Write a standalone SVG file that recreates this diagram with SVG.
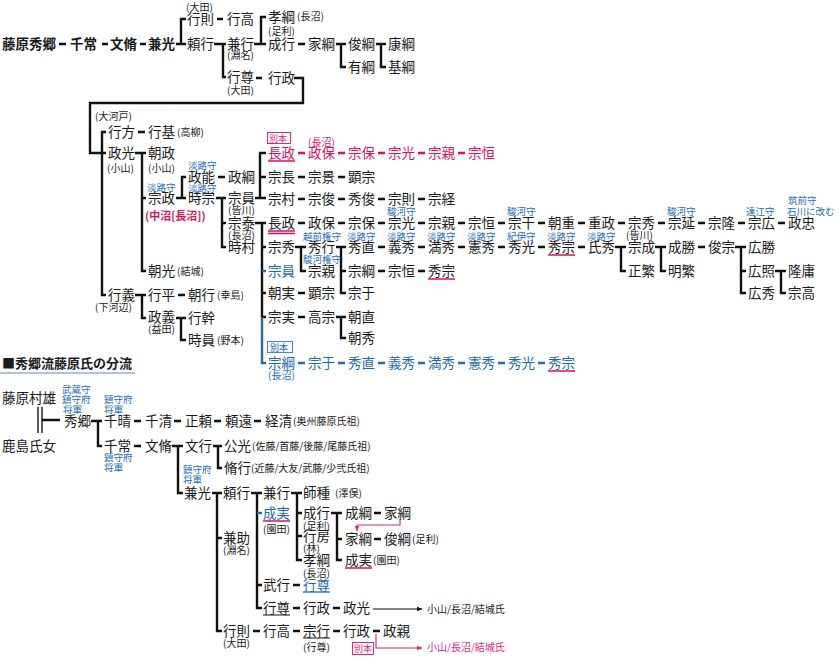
<svg xmlns="http://www.w3.org/2000/svg" width="839" height="662" viewBox="0 0 839 662">
<defs>
<style>
text{font-family:"Noto Sans CJK JP","Noto Sans CJK SC",sans-serif}
.n{font-size:13.5px;fill:#1a1a1a}
.bd{font-weight:bold}
.s{font-size:10px;fill:#1a1a1a}
.l{font-size:9.5px;fill:#1f6db3}
.red{fill:#d4145a}
.blu{fill:#1d6aab}
.pk{fill:#dc2a7a}
.c{stroke:#111;stroke-width:2.4;fill:none}
.cr{stroke:#d4145a;stroke-width:2.4;fill:none}
.cb{stroke:#2a6aa8;stroke-width:2.4;fill:none}
.ur{stroke:#d4145a;stroke-width:1.3}
.ub{stroke:#1d6aab;stroke-width:1.3}
.uk{stroke:#111;stroke-width:1.2}
</style>
<marker id="ak" viewBox="0 0 10 10" refX="9" refY="5" markerWidth="6" markerHeight="6" orient="auto" markerUnits="userSpaceOnUse"><path d="M0,1L10,5L0,9z" fill="#111"/></marker>
<marker id="ap" viewBox="0 0 10 10" refX="9" refY="5" markerWidth="6" markerHeight="6" orient="auto" markerUnits="userSpaceOnUse"><path d="M0,1L10,5L0,9z" fill="#dc2a7a"/></marker>
</defs>
<rect width="839" height="662" fill="#fff"/>

<g id="connectors">
<path class="c" d="M59,44H66 M102,44H108 M140,44H146 M176,44H186 M181,44V19H186 M217,19H223 M214,44H226 M223,44V77H226 M256,78H262 M254,44H266 M261,44V17H266 M298,44H305 M336,44H346 M341,44V67H346 M376,44H386 M381,44V67H386 M294,78H303V103H90V153H106"/>
<path class="c" d="M106,132H102V295H106 M138,132H145 M135,153H146 M142,153V271H146 M142,198H146 M176,198H186 M182,198V177H186 M218,177H225 M216,198H226 M222,198V247H226 M222,223H226 M255,198H266 M260,198V153H266 M260,177H266 M255,223H266 M262,223V317H266 M262,247H266 M262,293H266 M298,177H305 M338,177H345 M298,199H305 M338,199H345 M378,199H385 M418,199H425"/>
<path class="c" d="M298,223H305 M338,223H345 M378,223H385 M418,223H425 M458,223H465 M498,223H505 M538,223H545 M578,223H585 M618,223H625 M658,223H665 M698,223H705 M738,223H745 M778,223H785"/>
<path class="c" d="M295,247H306 M301,247V271H306 M336,247H346 M341,247V293H346 M341,271H346 M378,247H385 M418,247H425 M458,247H465 M498,247H505 M538,247H545 M578,247H585 M615,247H626 M621,247V271H626 M655,247H666 M661,247V271H666 M698,247H705 M735,247H746 M741,247V293H746 M741,271H746 M775,271H786 M781,271V293H786 M378,271H385 M418,271H425 M298,293H305 M298,317H305 M336,317H346 M341,317V338H346 M135,295H146 M142,295V318H146 M178,295H185 M176,318H186 M181,318V340H186"/>
<path class="cr" d="M298,153H305 M338,153H345 M378,153H385 M418,153H425 M458,153H465"/>
<path class="cb" d="M262,317V363H266 M262,271H266 M298,363H305 M338,363H345 M378,363H385 M418,363H425 M458,363H465 M498,363H505 M538,363H545"/>
<path d="M38,407V433 M42,407V433" stroke="#111" stroke-width="1.4" fill="none"/>
<path class="c" d="M42,420H60 M91,421H102 M98,421V446H102 M134,421H141 M174,421H181 M214,421H221 M254,421H261 M134,446H141 M172,446H183 M178,446V493H183 M213,446H222 M218,446V468H222 M212,493H222 M217,493V631H222 M217,538H222 M251,493H262 M257,493V608H262 M257,585H262 M291,493H302 M297,493V560H302 M297,513H302 M297,536H302 M331,513H342 M337,513V560H342 M337,539H342 M374,513H381 M374,539H381 M293,585H300 M293,608H300 M333,608H340 M253,631H260 M293,631H300 M333,631H340 M373,631H380"/>
<path class="cb" d="M257,513H262"/>
<path d="M373,609H422" stroke="#111" stroke-width="1" fill="none" marker-end="url(#ak)"/>
<path d="M376,634V648H422" stroke="#dc2a7a" stroke-width="1.2" fill="none" marker-end="url(#ap)"/>
<path d="M400,519V525H357V531" stroke="#dc2a7a" stroke-width="1.2" fill="none" marker-end="url(#ap)"/>
<path d="M0,373H135" stroke="#5f86b3" stroke-width="1"/>
</g>

<g id="underlines">
<path class="ur" d="M268,161H295 M268,231H295 M268,233.5H295 M548,255H575 M428,279H455 M548,371H575 M263,521H290 M345,568H372"/>
<path class="ub" d="M303,592H330"/>
<path class="uk" d="M263,615H290 M303,638H330"/>
</g>

<g id="top">
<g id="t01"><text class="n bd" x="2" y="49">藤原秀郷</text></g>
<g id="t02"><text class="n bd" x="70" y="49">千常</text></g>
<g id="t03"><text class="n bd" x="110" y="49">文脩</text></g>
<g id="t04"><text class="n bd" x="148" y="49">兼光</text></g>
<g id="t05"><text class="s" x="186" y="11">(大田)</text><text class="n" x="187" y="24">行則</text></g>
<g id="t06"><text class="n" x="227" y="24">行高</text></g>
<g id="t07"><text class="n" x="187" y="49">頼行</text></g>
<g id="t08"><text class="n" x="227" y="49">兼行</text><text class="s" x="227" y="59">(淵名)</text></g>
<g id="t09"><text class="n" x="227" y="82">行尊</text><text class="s" x="227" y="94">(大田)</text></g>
<g id="t10"><text class="n" x="268" y="83">行政</text></g>
<g id="t11"><text class="n" x="268" y="22">孝綱</text><text class="s" x="297" y="20">(長沼)</text></g>
<g id="t12"><text class="s" x="268" y="35">(足利)</text><text class="n" x="268" y="49">成行</text></g>
<g id="t13"><text class="n" x="308" y="49">家綱</text></g>
<g id="t14"><text class="n" x="348" y="49">俊綱</text></g>
<g id="t15"><text class="n" x="348" y="72">有綱</text></g>
<g id="t16"><text class="n" x="388" y="49">康綱</text></g>
<g id="t17"><text class="n" x="388" y="72">基綱</text></g>
</g>

<g id="middle">
<g id="m01"><text class="s" x="95" y="120">(大河戸)</text><text class="n" x="108" y="137">行方</text></g>
<g id="m02"><text class="n" x="148" y="137">行基</text><text class="s" x="177" y="136">(高柳)</text></g>
<g id="m03"><text class="n" x="108" y="158">政光</text><text class="s" x="107" y="172">(小山)</text></g>
<g id="m04"><text class="n" x="148" y="158">朝政</text><text class="s" x="148" y="172">(小山)</text></g>
<g id="m05"><text class="l" x="147" y="191">淡路守</text><text class="n" x="148" y="203">宗政</text><text class="s red bd" x="145" y="220" style="font-size:11px">(中沼[長沼])</text></g>
<g id="m06"><text class="l" x="188" y="169">淡路守</text><text class="n" x="188" y="182">政能</text></g>
<g id="m07"><text class="n" x="228" y="182">政綱</text></g>
<g id="m08"><text class="l" x="188" y="192">淡路守</text><text class="n" x="188" y="203">時宗</text></g>
<g id="m09"><text class="n" x="228" y="203">宗員</text><text class="s" x="228" y="214">(皆川)</text></g>
<g id="m10"><text class="n" x="228" y="228">宗泰</text><text class="s" x="228" y="239">(長沼)</text></g>
<g id="m11"><text class="n" x="228" y="252">時村</text></g>
<g id="m12"><text class="n" x="148" y="276">朝光</text><text class="s" x="177" y="275">(結城)</text></g>
<g id="m13"><text class="n" x="108" y="300">行義</text><text class="s" x="95" y="311">(下河辺)</text></g>
<g id="m14"><text class="n" x="148" y="300">行平</text></g>
<g id="m15"><text class="n" x="188" y="300">朝行</text><text class="s" x="217" y="299">(幸島)</text></g>
<g id="m16"><text class="n" x="148" y="322">政義</text><text class="s" x="148" y="333">(益田)</text></g>
<g id="m17"><text class="n" x="188" y="323">行幹</text></g>
<g id="m18"><text class="n" x="188" y="345">時員</text><text class="s" x="217" y="344">(野本)</text></g>

<g id="m19"><rect x="267.5" y="132.5" width="23" height="11" fill="#fff" stroke="#dc2a7a" stroke-width="1"/><text class="pk" x="269" y="141.5" style="font-size:9px">別本</text></g>
<g id="r01"><text class="n red" x="268" y="158">長政</text></g>
<g id="r02"><text class="s red" x="308" y="146">(長沼)</text><text class="n red" x="308" y="158">政保</text></g>
<g id="r03"><text class="n red" x="348" y="158">宗保</text></g>
<g id="r04"><text class="n red" x="388" y="158">宗光</text></g>
<g id="r05"><text class="n red" x="428" y="158">宗親</text></g>
<g id="r06"><text class="n red" x="468" y="158">宗恒</text></g>

<g id="a01"><text class="n" x="268" y="182">宗長</text></g>
<g id="a02"><text class="n" x="308" y="182">宗景</text></g>
<g id="a03"><text class="n" x="348" y="182">顕宗</text></g>
<g id="b01"><text class="n" x="268" y="204">宗村</text></g>
<g id="b02"><text class="n" x="308" y="204">宗俊</text></g>
<g id="b03"><text class="n" x="348" y="204">秀俊</text></g>
<g id="b04"><text class="n" x="388" y="204">宗則</text></g>
<g id="b05"><text class="n" x="428" y="204">宗経</text></g>

<g id="c01"><text class="n" x="268" y="228">長政</text></g>
<g id="c02"><text class="n" x="308" y="228">政保</text></g>
<g id="c03"><text class="n" x="348" y="228">宗保</text></g>
<g id="c04"><text class="l" x="387" y="215">駿河守</text><text class="n" x="388" y="228">宗光</text></g>
<g id="c05"><text class="n" x="428" y="228">宗親</text></g>
<g id="c06"><text class="n" x="468" y="228">宗恒</text></g>
<g id="c07"><text class="l" x="507" y="215">駿河守</text><text class="n" x="508" y="228">宗干</text></g>
<g id="c08"><text class="n" x="548" y="228">朝重</text></g>
<g id="c09"><text class="n" x="588" y="228">重政</text></g>
<g id="c10"><text class="n" x="628" y="228">宗秀</text></g>
<g id="c11"><text class="l" x="667" y="215">駿河守</text><text class="n" x="668" y="228">宗延</text></g>
<g id="c12"><text class="n" x="708" y="228">宗隆</text></g>
<g id="c13"><text class="l" x="746" y="215">遠江守</text><text class="n" x="748" y="228">宗広</text></g>
<g id="c14"><text class="l" x="788" y="204">筑前守</text><text class="l" x="787" y="215">石川に改む</text><text class="n" x="788" y="228">政忠</text></g>

<g id="d01"><text class="n" x="268" y="252">宗秀</text></g>
<g id="d02"><text class="l" x="303" y="240">越前権守</text><text class="n" x="308" y="252">秀行</text></g>
<g id="d03"><text class="l" x="347" y="240">淡路守</text><text class="n" x="348" y="252">秀直</text></g>
<g id="d04"><text class="l" x="387" y="240">淡路守</text><text class="n" x="388" y="252">義秀</text></g>
<g id="d05"><text class="l" x="427" y="240">淡路守</text><text class="n" x="428" y="252">満秀</text></g>
<g id="d06"><text class="l" x="467" y="240">淡路守</text><text class="n" x="468" y="252">憲秀</text></g>
<g id="d07"><text class="l" x="507" y="240">紀伊守</text><text class="n" x="508" y="252">秀光</text></g>
<g id="d08"><text class="l" x="547" y="240">淡路守</text><text class="n" x="548" y="252">秀宗</text></g>
<g id="d09"><text class="l" x="587" y="240">淡路守</text><text class="n" x="588" y="252">氏秀</text></g>
<g id="d10"><text class="s" x="626" y="239">(皆川)</text><text class="n" x="628" y="252">宗成</text></g>
<g id="d11"><text class="n" x="668" y="252">成勝</text></g>
<g id="d12"><text class="n" x="708" y="252">俊宗</text></g>
<g id="d13"><text class="n" x="748" y="252">広勝</text></g>

<g id="e01"><text class="n blu" x="268" y="276">宗員</text></g>
<g id="e02"><text class="l" x="303" y="263">駿河権守</text><text class="n" x="308" y="276">宗親</text></g>
<g id="e03"><text class="n" x="348" y="276">宗綱</text></g>
<g id="e04"><text class="n" x="388" y="276">宗恒</text></g>
<g id="e05"><text class="n" x="428" y="276">秀宗</text></g>
<g id="e06"><text class="n" x="628" y="276">正繁</text></g>
<g id="e07"><text class="n" x="668" y="276">明繁</text></g>
<g id="e08"><text class="n" x="748" y="276">広照</text></g>
<g id="e09"><text class="n" x="788" y="276">隆庸</text></g>

<g id="f01"><text class="n" x="268" y="298">朝実</text></g>
<g id="f02"><text class="n" x="308" y="298">顕宗</text></g>
<g id="f03"><text class="n" x="348" y="298">宗于</text></g>
<g id="f04"><text class="n" x="748" y="298">広秀</text></g>
<g id="f05"><text class="n" x="788" y="298">宗高</text></g>
<g id="g01"><text class="n" x="268" y="322">宗実</text></g>
<g id="g02"><text class="n" x="308" y="322">高宗</text></g>
<g id="g03"><text class="n" x="348" y="322">朝直</text></g>
<g id="g04"><text class="n" x="348" y="343">朝秀</text></g>

<g id="h00"><rect x="267.5" y="341.5" width="25" height="11" fill="#f3f8fc" stroke="#4a86bd" stroke-width="1"/><text class="blu" x="270" y="350.5" style="font-size:9px">別本</text></g>
<g id="h01"><text class="n blu" x="268" y="368">宗綱</text><text class="s blu" x="268" y="379">(長沼)</text></g>
<g id="h02"><text class="n blu" x="308" y="368">宗于</text></g>
<g id="h03"><text class="n blu" x="348" y="368">秀直</text></g>
<g id="h04"><text class="n blu" x="388" y="368">義秀</text></g>
<g id="h05"><text class="n blu" x="428" y="368">満秀</text></g>
<g id="h06"><text class="n blu" x="468" y="368">憲秀</text></g>
<g id="h07"><text class="n blu" x="508" y="368">秀光</text></g>
<g id="h08"><text class="n blu" x="548" y="368">秀宗</text></g>
</g>

<g id="heading"><text class="bd" x="2" y="368" style="font-size:13px;fill:#1a1a1a">■秀郷流藤原氏の分流</text></g>

<g id="bottom">
<g id="k01"><text class="n" x="2" y="403">藤原村雄</text></g>
<g id="k02"><text class="n" x="2" y="451">鹿島氏女</text></g>
<g id="k03"><text class="l" x="62" y="393">武蔵守</text><text class="l" x="62" y="403">鎮守府</text><text class="l" x="63" y="413">将軍</text><text class="n" x="64" y="426">秀郷</text></g>
<g id="k04"><text class="l" x="104" y="403">鎮守府</text><text class="l" x="104" y="413">将軍</text><text class="n" x="104" y="426">千晴</text></g>
<g id="k05"><text class="n" x="145" y="426">千清</text></g>
<g id="k06"><text class="n" x="185" y="426">正頼</text></g>
<g id="k07"><text class="n" x="225" y="426">頼遠</text></g>
<g id="k08"><text class="n" x="265" y="426">経清</text><text class="s" x="293" y="425">(奥州藤原氏祖)</text></g>
<g id="k09"><text class="n" x="104" y="451">千常</text><text class="l" x="104" y="461">鎮守府</text><text class="l" x="104" y="471">将軍</text></g>
<g id="k10"><text class="n" x="145" y="451">文脩</text></g>
<g id="k11"><text class="n" x="185" y="451">文行</text></g>
<g id="k12"><text class="n" x="224" y="451">公光</text><text class="s" x="252" y="450">(佐藤/首藤/後藤/尾藤氏祖)</text></g>
<g id="k13"><text class="n" x="224" y="473">脩行</text><text class="s" x="251" y="472">(近藤/大友/武藤/少弐氏祖)</text></g>
<g id="k14"><text class="l" x="183" y="473">鎮守府</text><text class="l" x="183" y="483">将軍</text><text class="n" x="184" y="498">兼光</text></g>
<g id="k15"><text class="n" x="223" y="498">頼行</text></g>
<g id="k16"><text class="n" x="263" y="498">兼行</text></g>
<g id="k17"><text class="n" x="303" y="498">師種</text><text class="s" x="335" y="497">(澤俣)</text></g>
<g id="k18"><text class="n blu" x="263" y="518">成実</text><text class="s" x="263" y="533">(園田)</text></g>
<g id="k19"><text class="n" x="303" y="518">成行</text><text class="s" x="303" y="530">(足利)</text></g>
<g id="k20"><text class="n" x="345" y="518">成綱</text></g>
<g id="k21"><text class="n" x="384" y="518">家綱</text></g>
<g id="k22"><text class="n" x="345" y="544">家綱</text></g>
<g id="k23"><text class="n" x="384" y="544">俊綱</text><text class="s" x="412" y="543">(足利)</text></g>
<g id="k24"><text class="n" x="303" y="541">行房</text><text class="s" x="303" y="552">(林)</text></g>
<g id="k25"><text class="n" x="303" y="565">孝綱</text><text class="s" x="303" y="577">(長沼)</text></g>
<g id="k26"><text class="n" x="345" y="565">成実</text><text class="s" x="373" y="564">(園田)</text></g>
<g id="k27"><text class="n" x="223" y="543">兼助</text><text class="s" x="223" y="554">(淵名)</text></g>
<g id="k28"><text class="n" x="263" y="590">武行</text></g>
<g id="k29"><text class="n blu" x="303" y="590">行尊</text></g>
<g id="k30"><text class="n" x="263" y="613">行尊</text></g>
<g id="k31"><text class="n" x="303" y="613">行政</text></g>
<g id="k32"><text class="n" x="343" y="613">政光</text></g>
<g id="k33"><text class="s" x="427" y="613">小山/長沼/結城氏</text></g>
<g id="k34"><text class="n" x="223" y="636">行則</text><text class="s" x="223" y="647">(大田)</text></g>
<g id="k35"><text class="n" x="263" y="636">行高</text></g>
<g id="k36"><text class="n" x="303" y="636">宗行</text><text class="s" x="303" y="651">(行尊)</text></g>
<g id="k37"><text class="n" x="343" y="636">行政</text></g>
<g id="k38"><text class="n" x="383" y="636">政親</text></g>
<g id="k39"><rect x="352.5" y="642.5" width="21" height="12" fill="#fff" stroke="#dc2a7a" stroke-width="1"/><text class="pk" x="354" y="652" style="font-size:9px">別本</text></g>
<g id="k40"><text class="s pk" x="427" y="651">小山/長沼/結城氏</text></g>
</g>
</svg>
